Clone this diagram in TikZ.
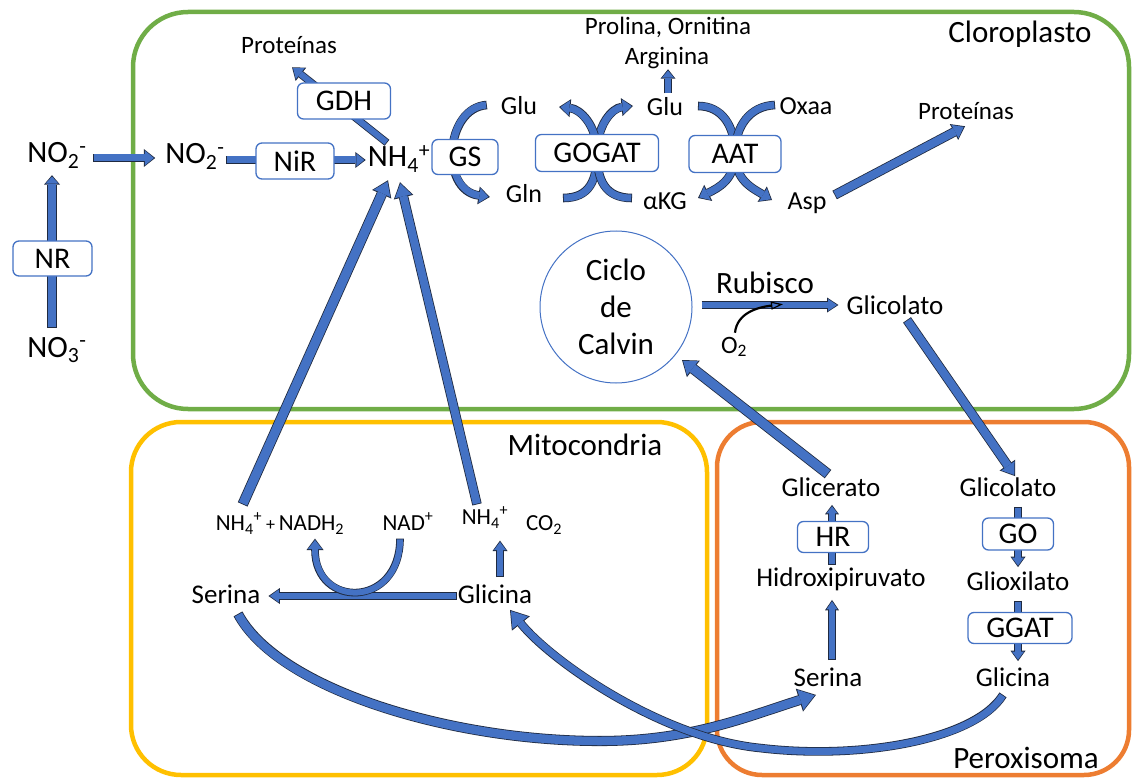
\documentclass[tikz,border=0pt]{standalone}
\usepackage{fontspec}
\setmainfont{Carlito}
\usetikzlibrary{arrows.meta,calc}
\pgfdeclarelayer{bg}
\pgfdeclarelayer{arr}
\pgfsetlayers{bg,arr,main}
\definecolor{ablue}{HTML}{4472C4}
\definecolor{outl}{HTML}{1F2A40}
\definecolor{cgreen}{HTML}{70AD47}
\definecolor{cyellow}{HTML}{FFC000}
\definecolor{corange}{HTML}{ED7D31}
\tikzset{
  blk/.code args={#1/#2/#3}{%
    \pgfmathsetlengthmacro\bwo{#1+1.6pt}%
    \pgfmathsetlengthmacro\blo{#2+2.4pt}%
    \pgfmathsetlengthmacro\bho{#3+3pt}%
    \edef\blkpre{\noexpand\tikzset{preaction={draw=outl,line width=\bwo,shorten >=0pt,shorten <=0pt,-{Triangle[length=\blo,width=\bho,line width=0pt]}}}}%
    \blkpre
    \tikzset{draw=ablue,line width=#1,shorten >=1.4pt,shorten <=0.8pt,-{Triangle[length=#2,width=#3,line width=0pt]}}%
  },
  lbl/.style={inner sep=0pt, text depth=0pt},
  fL/.style={font=\fontsize{31}{37}\selectfont, text height=20pt},
  fM/.style={font=\fontsize{27}{32}\selectfont, text height=17.4pt},
  fG/.style={font=\fontsize{26}{31}\selectfont, text height=16.7pt},
  fS/.style={font=\fontsize{25}{30}\selectfont, text height=16.1pt},
  fT/.style={font=\fontsize{23}{28}\selectfont, text height=14.8pt},
  enz/.style={draw=ablue, fill=white, rounded corners=6pt, line width=1.3pt, inner sep=0pt, font=\fontsize{30}{34}\selectfont},
  cont/.style={line width=4.5pt},
  o2arr/.style={draw=black, line width=2.2pt, -{Triangle[length=12pt,width=8pt,fill=ablue,line width=1.2pt]}},
}
\begin{document}
\begin{tikzpicture}[x=1pt,y=-1pt]
\useasboundingbox (0,0) rectangle (1132,778);
\begin{pgfonlayer}{bg}
\draw[cont, cgreen, rounded corners=55pt] (133,12) rectangle (1129,409);
\draw[cont, cyellow, rounded corners=50pt] (131,422) rectangle (707,775);
\draw[cont, corange, rounded corners=45pt] (717,422) rectangle (1129,775);
\end{pgfonlayer}

% ---- nodes ----
\node[lbl,fL] (no2o) at (57,153) {NO\textsubscript{2}\textsuperscript{-}};
\node[lbl,fL] (no3) at (57,347) {NO\textsubscript{3}\textsuperscript{-}};
\node[enz,minimum width=79pt,minimum height=35pt] (nr) at (52.5,258.5) {NR};
\node[lbl,fL] (no2i) at (195,154) {NO\textsubscript{2}\textsuperscript{-}};
\node[enz,minimum width=78pt,minimum height=36pt] (nir) at (295,161) {NiR};
\node[lbl,fL] (nh4) at (399,157) {NH\textsubscript{4}\textsuperscript{+}};
\node[enz,minimum width=93pt,minimum height=36pt] (gdh) at (344,101) {GDH};
\node[lbl,fS] (protl) at (289,45) {Proteínas};
\node[enz,minimum width=66pt,minimum height=35pt] (gs) at (465,157) {GS};
\node[enz,minimum width=123pt,minimum height=37pt] (gogat) at (597,153) {GOGAT};
\node[enz,minimum width=92pt,minimum height=37pt] (aat) at (735,154) {AAT};
\node[lbl,fG] (glul) at (519,106) {Glu};
\node[lbl,fG] (gln) at (524,194) {Gln};
\node[lbl,fG] (glur) at (665,107) {Glu};
\node[lbl,fG] (akg) at (665,201) {αKG};
\node[lbl,fG] (oxaa) at (806,106) {Oxaa};
\node[lbl,fG] (asp) at (807,201) {Asp};
\node[lbl,fS] (arg) at (667,56) {Arginina};
\node[lbl,fS] (prol) at (668,26) {Prolina, Ornitina};
\node[lbl,fS] (protr) at (966,111) {Proteínas};
\node[draw=ablue,line width=1pt,circle,minimum size=152pt,inner sep=0pt,align=center,font=\fontsize{31}{37}\selectfont] (calvin) at (616,307) {Ciclo\\de\\Calvin};
\node[lbl,fL] (rub) at (765,283) {Rubisco};
\node[lbl,fM] (glicc) at (895,306) {Glicolato};
\node[lbl,fS] (o2) at (734,345) {O\textsubscript{2}};
\node[lbl,fL] (cloro) at (1020,33) {Cloroplasto};
\node[lbl,fL] (mito) at (585,445) {Mitocondria};
\node[lbl,fL] (perox) at (1026,758) {Peroxisoma};
\node[lbl,fM] (glicer) at (831,488) {Glicerato};
\node[enz,minimum width=71pt,minimum height=31pt] (hr) at (833,537) {HR};
\node[lbl,fM] (hidr) at (841,578) {Hidroxipiruvato};
\node[lbl,fM] (serp) at (828,678) {Serina};
\node[lbl,fM] (glicp) at (1008,488) {Glicolato};
\node[enz,minimum width=71pt,minimum height=32pt] (go) at (1018,534) {GO};
\node[lbl,fM] (gliox) at (1018,582) {Glioxilato};
\node[enz,minimum width=104pt,minimum height=31pt] (ggat) at (1020,628) {GGAT};
\node[lbl,fM] (glip) at (1013,678) {Glicina};
\node[lbl,fT] (nadh) at (280,523) {NH\textsubscript{4}\textsuperscript{+}\,{\fontsize{18}{20}\selectfont +}\,NADH\textsubscript{2}};
\node[lbl,fT] (nad) at (408,523) {NAD\textsuperscript{+}};
\node[lbl,fT] (nh4m) at (485,517) {NH\textsubscript{4}\textsuperscript{+}};
\node[lbl,fT] (co2) at (544,523) {CO\textsubscript{2}};
\node[lbl,fM] (serm) at (226,595) {Serina};
\node[lbl,fM] (glim) at (495,595) {Glicina};
\coordinate (bendA) at (600,741);
\coordinate (bendB) at (760,748);

% ---- arrows ----
\begin{pgfonlayer}{arr}
\draw[blk=8pt/7pt/13pt] ($(no3.north)+(-5,-9)$) -- ($(no2o.south)+(-5,12)$);
\draw[blk=7pt/9pt/15pt] ($(no2o.east)+(6,5)$) -- ($(no2i.west)+(-10,4)$);
\draw[blk=7pt/8pt/13pt] ($(no2i.east)+(1,6)$) -- ($(nh4.west)+(-2,3)$);
\draw[blk=6pt/9pt/14pt] ($(nh4.north)+(-12,-4)$) -- ($(protl.south)+(3,14)$);
\draw[blk=6pt/7pt/12pt] ($(glur.north)+(3,-5)$) -- ($(arg.south)+(1,5)$);
\draw[blk=8pt/10pt/15pt] ($(asp.east)+(8,-6)$) -- ($(protr.south)+(-1,7)$);
% GS
\draw[blk=7pt/9pt/15pt] ($(glul.west)+(-14,-1)$) .. controls +(-42,3) and +(-50,-7) .. ($(gln.west)+(-16,3)$);
% GOGAT
\draw[blk=7pt/9pt/15pt] ($(gogat.center)+(-34,45)$) .. controls +(27,0) and +(0,27) .. (gogat.center) .. controls +(0,-28) and +(-21,2) .. ($(gogat.center)+(36,-47)$);
\draw[blk=7pt/9pt/15pt] ($(gogat.center)+(35,45)$) .. controls +(-27,0) and +(0,27) .. (gogat.center) .. controls +(0,-28) and +(21,2) .. ($(gogat.center)+(-38,-46)$);
% AAT
\draw[blk=7pt/9pt/15pt] ($(aat.center)+(-37,-48)$) .. controls +(24,0) and +(0,-28) .. (aat.center) .. controls +(0,26) and +(-20,-12) .. ($(aat.center)+(37,46)$);
\draw[blk=7pt/9pt/15pt] ($(aat.center)+(40,-49)$) .. controls +(-25,1) and +(0,-28) .. (aat.center) .. controls +(0,26) and +(20,-10) .. ($(aat.center)+(-37,44)$);
% Rubisco
\draw[blk=6pt/9pt/12pt] ($(calvin.east)+(9,-2)$) -- ($(glicc.west)+(-8,-1)$);
\draw[o2arr] ($(o2.north)+(1,-4)$) .. controls +(2,-20) and +(-25,3) .. ($(rub.south)+(18,11)$);
\draw[blk=8pt/11pt/16pt] ($(glicc.south)+(12,5)$) -- ($(glicp.north)+(7,-3)$);
\draw[blk=9pt/12pt/18pt] ($(glicer.north)+(-3,-5)$) -- ($(calvin.center)+(66,53)$);
% peroxisome
\draw[blk=6pt/7pt/11pt] ($(hidr.north)+(-9,-4)$) -- ($(glicer.south)+(1,8)$);
\draw[blk=6pt/8pt/11pt] ($(serp.north)+(4,-9)$) -- ($(hidr.south)+(-9,13)$);
\draw[blk=6pt/8pt/12pt] ($(glicp.south)+(10,10)$) -- ($(gliox.north)+(0,-6)$);
\draw[blk=6pt/8pt/12pt] ($(gliox.south)+(0,10)$) -- ($(glip.north)+(5,-8)$);
% mitochondria
\draw[blk=6pt/9pt/13pt] ($(glim.west)+(-1,1)$) -- ($(serm.east)+(8,1)$);
\draw[blk=6pt/8pt/12pt] ($(glim.north)+(5,-9)$) -- ($(nh4m.south)+(15,16)$);
\draw[blk=6pt/9pt/14pt] ($(nad.south)+(-8,8)$) .. controls +(0,70) and +(0,70) .. ($(nadh.south)+(35,8)$);
\draw[blk=9pt/13pt/18pt] ($(nadh.north west)+(27,-11)$) -- ($(nh4.south)+(-11,13)$);
\draw[blk=8pt/13pt/17pt] ($(nh4m.north)+(-8,-5)$) -- ($(nh4.south)+(1,15)$);
% long curves
\draw[blk=8.5pt/15pt/21pt] ($(serm.south)+(12,10)$) .. controls +(40,75) and +(-150,0) .. (bendA) .. controls +(90,0) and +(-70,22) .. ($(serp.south)+(-12,8)$);
\draw[blk=7pt/15pt/20pt] ($(glip.south)+(-10,8)$) .. controls +(-28,45) and +(100,12) .. (bendB) .. controls +(-100,-10) and +(40,50) .. ($(glim.south)+(15,6)$);
\end{pgfonlayer}
\end{tikzpicture}
\end{document}
